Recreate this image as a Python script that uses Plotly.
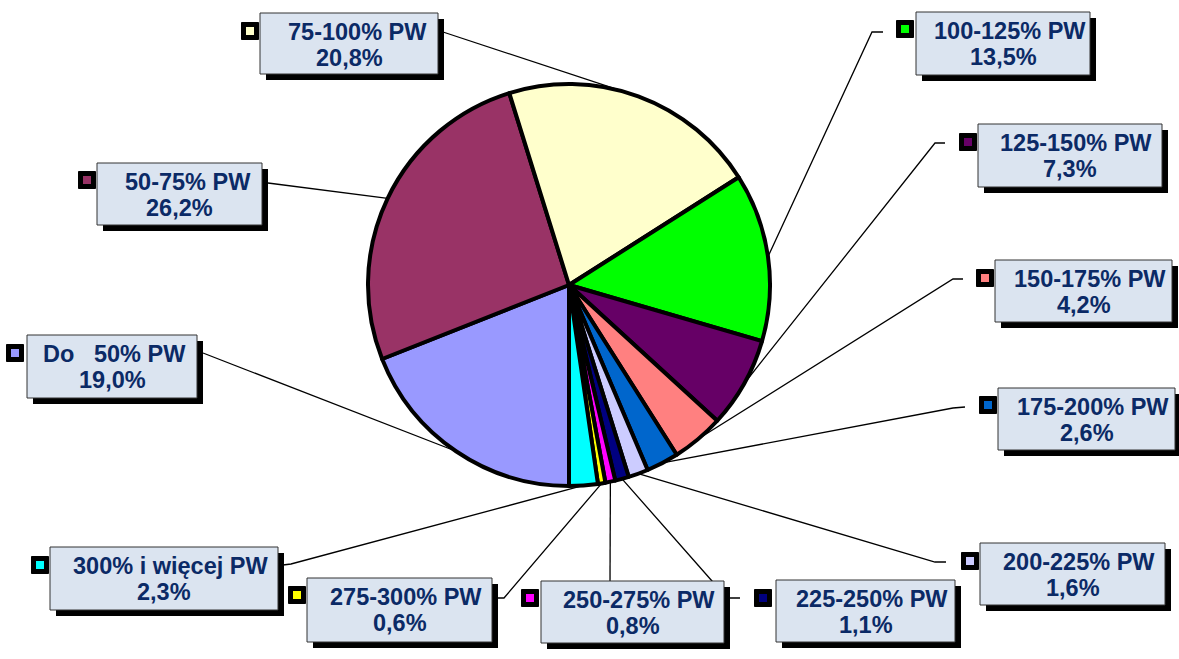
import math
import plotly.graph_objects as go

# ---------------- data ----------------
categories = ["Do\u00a0\u00a0\u00a050% PW", "50-75% PW", "75-100% PW", "100-125% PW",
              "125-150% PW", "150-175% PW", "175-200% PW", "200-225% PW",
              "225-250% PW", "250-275% PW", "275-300% PW", "300% i więcej PW"]
shares = [19.0, 26.2, 20.8, 13.5, 7.3, 4.2, 2.6, 1.6, 1.1, 0.8, 0.6, 2.3]
slice_colors = ["#9999FF", "#993366", "#FFFFCC", "#00FF00", "#660066", "#FF8080",
                "#0066CC", "#CCCCFF", "#000080", "#FF00FF", "#FFFF00", "#00FFFF"]

# ---------------- layout (pixels) ----------------
W, H = 1179, 659
CX, CY, R = 569, 285, 201
START_ANGLE = 180  # first slice starts at 6 o'clock, clockwise

# label boxes: x0, x1, y0, y1
boxes = [(27, 197, 335, 398), (97, 262, 163, 225), (260, 438, 13, 74),
         (916, 1090, 12, 75), (978, 1162, 124, 187), (995, 1172, 260, 322),
         (998, 1175, 388, 450), (980, 1165, 543, 605), (776, 955, 580, 642),
         (541, 724, 581, 643), (307, 492, 578, 642), (50, 278, 547, 610)]
keys = [(15, 353), (87, 180), (250, 31), (905, 29), (968, 142), (985, 278),
        (988, 405), (970, 561), (763, 598), (530, 598), (297, 595), (40, 565)]
line1_shift = [2, 8, 8, 7, 6, 6, 6, 6, 6, 6, 6, 6]
# leader line start points (one or two points before reaching the pie)
leaders = [[(203, 353)], [(268, 183)], [(443, 32)],
           [(883, 32), (872, 32)], [(945, 143), (935, 143)], [(963, 279), (953, 279)],
           [(965, 407), (953, 408)], [(946, 562), (935, 562)], [(740, 598), (727, 598)],
           [(610, 581)], [(498, 598), (504, 598)], [(283, 565), (291, 564)]]

SHADOW = 6
TEXT_COLOR = "#0B2A66"
BOX_FILL = "#DBE4F0"
FONT = "Liberation Sans, Arial, sans-serif"
FONT_SIZE = 23.5


def px(x):
    return x / W


def py(y):
    return 1 - y / H


fig = go.Figure()
fig.add_trace(go.Pie(
    labels=categories, values=shares, sort=False, direction="clockwise",
    rotation=START_ANGLE,
    marker=dict(colors=slice_colors, line=dict(color="black", width=4)),
    textinfo="none", hoverinfo="label+percent", showlegend=False,
    domain=dict(x=[px(CX - R), px(CX + R)], y=[py(CY + R), py(CY - R)]),
))

shapes = []
annotations = []
total = sum(shares)
cum = 0.0
for i, (lab, v) in enumerate(zip(categories, shares)):
    theta = math.radians(START_ANGLE + 360 * (cum + v / 2) / total)
    cum += v
    ex = CX + R * math.sin(theta)
    ey = CY - R * math.cos(theta)
    pts = leaders[i] + [(ex, ey)]
    path = "M " + " L ".join(f"{px(a):.5f},{py(b):.5f}" for a, b in pts)
    shapes.append(dict(type="path", xref="paper", yref="paper", path=path,
                       line=dict(color="black", width=1.3), layer="below"))

    x0, x1, y0, y1 = boxes[i]
    shapes.append(dict(type="rect", xref="paper", yref="paper",
                       x0=px(x0 + SHADOW), x1=px(x1 + SHADOW),
                       y0=py(y1 + SHADOW), y1=py(y0 + SHADOW),
                       fillcolor="black", line=dict(width=0), layer="below"))
    shapes.append(dict(type="rect", xref="paper", yref="paper",
                       x0=px(x0), x1=px(x1), y0=py(y1), y1=py(y0),
                       fillcolor=BOX_FILL, line=dict(color="#333333", width=1),
                       layer="below"))
    kx, ky = keys[i]
    shapes.append(dict(type="rect", xref="paper", yref="paper",
                       x0=px(kx - 8.5), x1=px(kx + 8.5), y0=py(ky + 8.5), y1=py(ky - 8.5),
                       fillcolor="black", line=dict(color="black", width=1), layer="below"))
    shapes.append(dict(type="rect", xref="paper", yref="paper",
                       x0=px(kx - 4), x1=px(kx + 4), y0=py(ky + 4), y1=py(ky - 4),
                       fillcolor=slice_colors[i], line=dict(width=0), layer="below"))

    pct = f"{v:.1f}".replace(".", ",") + "%"
    xc = px((x0 + x1) / 2)
    for txt, dy, dx in ((lab, 19, line1_shift[i]), (pct, 45, 0)):
        annotations.append(dict(
            xref="paper", yref="paper", x=xc, y=py(y0 + dy), xshift=dx,
            xanchor="center", yanchor="middle", showarrow=False, align="center",
            text=f"<b>{txt}</b>",
            font=dict(family=FONT, size=FONT_SIZE, color=TEXT_COLOR),
        ))

fig.update_layout(
    width=W, height=H, margin=dict(l=0, r=0, t=0, b=0),
    paper_bgcolor="white", plot_bgcolor="white",
    shapes=shapes, annotations=annotations, showlegend=False,
)

fig.write_html("out.html", config={"displayModeBar": False},
               post_script="document.body.style.margin='0';")
